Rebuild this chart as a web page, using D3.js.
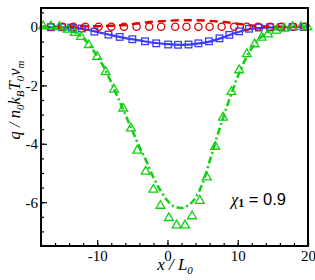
<!DOCTYPE html>
<html>
<head>
<meta charset="utf-8">
<script src="https://cdn.jsdelivr.net/npm/d3@7"></script>
<style>
  body { margin: 0; background: #fff; }
  svg { display: block; }
</style>
</head>
<body>
<svg width="315" height="280"></svg>
<script>
// reference data
var circleX = [-16.6, -15.0, -13.4, -11.7, -9.8, -8.0, -6.2, -4.4, -2.6, -0.9, 1.1, 2.7, 4.4, 6.0, 7.7, 9.5, 11.3, 12.9, 14.6, 16.2, 17.9, 19.5];
var circleY = [0.01, 0.01, 0.01, 0.01, 0.01, 0.01, 0.01, 0.01, 0.01, 0.01, 0.01, 0.01, 0.01, 0.01, 0.01, 0.01, 0.01, 0.01, 0.01, 0.01, 0.01, 0.01];

var squareX = [-16.6, -15.0, -13.6, -12.2, -10.4, -8.4, -6.8, -5.0, -3.2, -1.6, 0.1, 1.5, 3.0, 4.4, 5.9, 7.4, 8.8, 10.2, 11.6, 13.0, 14.6, 16.2, 17.8, 19.4];
var squareY = [-0.01, -0.01, -0.02, -0.05, -0.16, -0.26, -0.34, -0.42, -0.49, -0.56, -0.6, -0.61, -0.6, -0.56, -0.49, -0.39, -0.27, -0.15, -0.06, -0.02, -0.01, 0, 0, 0];

var triX = [-17.7, -16.6, -15.4, -14.2, -13.2, -12.3, -11.2, -10.0, -8.8, -7.6, -6.3, -5.2, -4.3, -3.1, -2.0, -1.0, 0.2, 1.3, 2.5, 3.5, 4.6, 5.6, 6.8, 7.9, 9.1, 10.2, 11.3, 12.4, 13.4, 14.3, 15.5, 16.6, 17.8, 19.0, 19.9];
var triY = [0.02, 0.02, 0, -0.09, -0.2, -0.34, -0.62, -1.02, -1.54, -2.14, -2.79, -3.47, -4.23, -4.95, -5.57, -6.12, -6.54, -6.79, -6.79, -6.48, -5.95, -5.15, -4.1, -3.1, -2.22, -1.48, -0.93, -0.59, -0.36, -0.25, -0.12, -0.05, 0, 0, 0];

var redLineX = [-18, -12, -8, -6, -4, -2, 0, 2, 4, 6, 8, 10, 12, 14, 16, 20];
var redLineY = [0.01, 0.02, 0.04, 0.07, 0.13, 0.18, 0.21, 0.23, 0.23, 0.21, 0.17, 0.11, 0.05, 0.02, 0.01, 0];

var blueLineX = [-18, -16, -14, -12, -10, -8, -6, -4, -2, 0, 2, 4, 6, 8, 10, 12, 14, 16, 20];
var blueLineY = [0, -0.01, -0.02, -0.07, -0.17, -0.28, -0.38, -0.46, -0.54, -0.59, -0.61, -0.58, -0.5, -0.35, -0.18, -0.06, -0.02, -0.01, 0];

var greenLineX = [-18, -16, -14, -12, -11, -10, -9, -8, -7, -6, -5, -4, -3, -2, -1, 0, 1, 2, 3, 4, 5, 6, 7, 8, 9, 10, 11, 12, 13, 14, 15, 16, 18, 20];
var greenLineY = [0, -0.02, -0.1, -0.38, -0.65, -1.0, -1.4, -1.9, -2.45, -3.0, -3.55, -4.1, -4.6, -5.15, -5.6, -5.95, -6.15, -6.2, -6.1, -5.85, -5.35, -4.6, -3.8, -3.05, -2.35, -1.7, -1.15, -0.72, -0.42, -0.22, -0.1, -0.05, -0.01, 0];

var xMajor = [-10, 0, 10, 20];
var yMajor = [-6, -4, -2, 0];

var svg = d3.select("svg"),
    x0 = 41, y0 = 8, x1 = 308, y1 = 246;

var x = d3.scaleLinear().domain([-18, 20]).range([x0, x1]),
    y = d3.scaleLinear().domain([-7.5, 0.65]).range([y1, y0]);

var serif = "'Liberation Serif', 'Times New Roman', serif";

// minor ticks
svg.append("g")
   .attr("transform", "translate(0," + y1 + ")")
   .call(d3.axisBottom(x).tickValues(d3.range(-18, 21, 2)).tickFormat("").tickSize(-3))
   .call(function(g) { g.select(".domain").remove(); });
svg.append("g")
   .attr("transform", "translate(" + x0 + ",0)")
   .call(d3.axisLeft(y).tickValues(d3.range(-7, 0.6, 0.5)).tickFormat("").tickSize(-3))
   .call(function(g) { g.select(".domain").remove(); });

// major ticks + labels
var xa = svg.append("g")
   .attr("transform", "translate(0," + y1 + ")")
   .call(d3.axisBottom(x).tickValues(xMajor).tickSize(-6).tickPadding(4).tickFormat(function(d) { return String(d); }));
xa.select(".domain").remove();
xa.selectAll("text").attr("font-family", serif).attr("font-size", 15).attr("fill", "#000");

var ya = svg.append("g")
   .attr("transform", "translate(" + x0 + ",0)")
   .call(d3.axisLeft(y).tickValues(yMajor).tickSize(-6).tickPadding(3).tickFormat(function(d) { return String(d); }));
ya.select(".domain").remove();
ya.selectAll("text").attr("font-family", serif).attr("font-size", 15).attr("fill", "#000");

svg.selectAll(".tick line").attr("stroke", "#000").attr("stroke-width", 1.2);

// lines
var line = d3.line()
    .x(function(d) { return x(d[0]); })
    .y(function(d) { return y(d[1]); })
    .curve(d3.curveMonotoneX);

var plot = svg.append("g");

plot.append("path")
    .datum(d3.zip(blueLineX, blueLineY))
    .attr("d", line)
    .attr("fill", "none")
    .attr("stroke", "#3a3aff")
    .attr("stroke-width", 2.2);

plot.append("path")
    .datum(d3.zip(redLineX, redLineY))
    .attr("d", line)
    .attr("fill", "none")
    .attr("stroke", "#e00000")
    .attr("stroke-width", 2.4)
    .attr("stroke-dasharray", "8,5");

plot.append("path")
    .datum(d3.zip(greenLineX, greenLineY))
    .attr("d", line)
    .attr("fill", "none")
    .attr("stroke", "#12d012")
    .attr("stroke-width", 2.6)
    .attr("stroke-dasharray", "7,3,2,3");

// markers
plot.selectAll(".sq")
    .data(d3.zip(squareX, squareY))
    .enter().append("rect")
    .attr("x", function(d) { return x(d[0]) - 3.3; })
    .attr("y", function(d) { return y(d[1]) - 3.3; })
    .attr("width", 6.6)
    .attr("height", 6.6)
    .attr("fill", "none")
    .attr("stroke", "#3a3aff")
    .attr("stroke-width", 1.3);

plot.selectAll(".ci")
    .data(d3.zip(circleX, circleY))
    .enter().append("circle")
    .attr("cx", function(d) { return x(d[0]); })
    .attr("cy", function(d) { return y(d[1]); })
    .attr("r", 3.6)
    .attr("fill", "none")
    .attr("stroke", "#e00000")
    .attr("stroke-width", 1.3);

var tri = d3.symbol().type(d3.symbolTriangle).size(34);
plot.selectAll(".tr")
    .data(d3.zip(triX, triY))
    .enter().append("path")
    .attr("d", tri)
    .attr("transform", function(d) { return "translate(" + x(d[0]) + "," + y(d[1]) + ")"; })
    .attr("fill", "none")
    .attr("stroke", "#12d012")
    .attr("stroke-width", 1.3);

// frame
svg.append("rect")
   .attr("x", x0).attr("y", y0)
   .attr("width", x1 - x0).attr("height", y1 - y0)
   .attr("fill", "none").attr("stroke", "#000").attr("stroke-width", 2);

// axis titles
var xl = svg.append("text")
   .attr("x", 175).attr("y", 270)
   .attr("text-anchor", "middle")
   .attr("font-family", serif).attr("font-style", "italic").attr("font-size", 17);
xl.append("tspan").text("x / L");
xl.append("tspan").attr("font-size", 11).attr("dy", 4).text("0");

var yl = svg.append("text")
   .attr("transform", "translate(20,100) rotate(-90)")
   .attr("text-anchor", "middle")
   .attr("font-family", serif).attr("font-style", "italic").attr("font-size", 16.5);
yl.append("tspan").text("q / n");
yl.append("tspan").attr("font-size", 11).attr("dy", 4).text("0");
yl.append("tspan").attr("dy", -4).text("k");
yl.append("tspan").attr("font-size", 11).attr("dy", 4).text("B");
yl.append("tspan").attr("dy", -4).text("T");
yl.append("tspan").attr("font-size", 11).attr("dy", 4).text("0");
yl.append("tspan").attr("dy", -4).text("v");
yl.append("tspan").attr("font-size", 11).attr("dy", 4).text("m");

// annotation
var an = svg.append("text")
   .attr("x", 231).attr("y", 205)
   .attr("font-size", 16.5);
an.append("tspan").attr("font-family", serif).attr("font-style", "italic").text("\u03c7");
an.append("tspan").attr("font-family", serif).attr("font-weight", "bold").attr("font-size", 12).attr("dy", 2).text("1");
an.append("tspan").attr("font-family", "'Liberation Sans', Arial, sans-serif").attr("dy", -2).text(" = 0.9");
</script>
</body>
</html>
